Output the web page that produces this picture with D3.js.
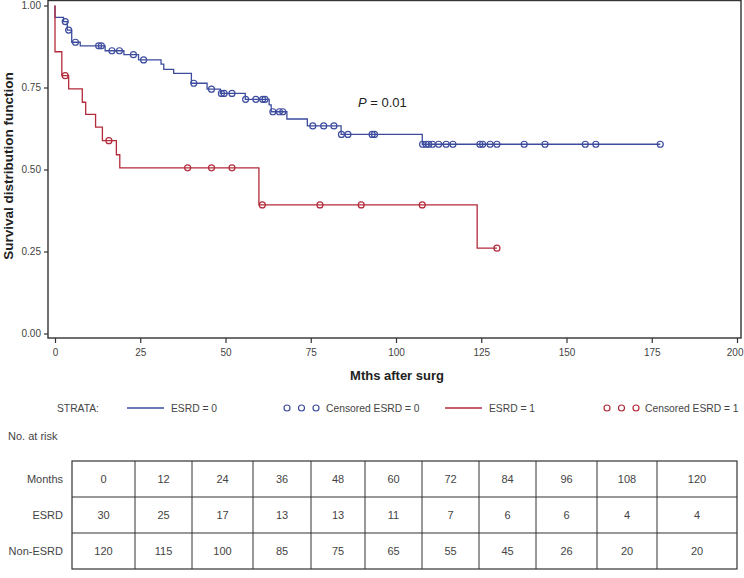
<!DOCTYPE html>
<html>
<head>
<meta charset="utf-8">
<script src="https://cdn.jsdelivr.net/npm/d3@7"></script>
<style>
  html, body { margin: 0; padding: 0; background: #fff; }
  svg { display: block; }
  text { font-family: "Liberation Sans", Arial, sans-serif; }
</style>
</head>
<body>
<svg id="chart" width="744" height="578"></svg>
<script>
// ---------------- DATA ----------------
const esrd0Times = [0, 0, 2.5, 3.6, 4.9, 7.4, 14.7, 20.2, 24.5, 31.1, 31.9, 34.8, 40.0, 44.6, 48.5, 55.8, 62.8, 63.4, 68.0, 74.0, 83.9, 107.7, 177.5];
const esrd0Surv  = [1, 0.964, 0.951, 0.925, 0.888, 0.877, 0.862, 0.850, 0.834, 0.821, 0.805, 0.793, 0.763, 0.745, 0.732, 0.714, 0.697, 0.676, 0.654, 0.633, 0.607, 0.577, 0.577];
const esrd0Censored = [3.0, 4.0, 6.0, 12.8, 13.6, 16.7, 18.9, 23.0, 26.0, 40.7, 45.9, 48.8, 49.6, 51.9, 55.9, 58.9, 60.9, 61.6, 63.9, 65.8, 66.8, 75.6, 78.8, 81.8, 84.0, 85.9, 93.0, 93.7, 107.8, 108.8, 109.6, 110.7, 112.5, 114.7, 116.7, 124.6, 125.4, 127.6, 129.6, 137.6, 143.7, 155.5, 158.6, 177.5];

const esrd1Times = [0, 0, 2.0, 4.0, 8.0, 9.0, 11.9, 13.9, 18.0, 19.0, 59.8, 123.8, 129.6];
const esrd1Surv  = [1, 0.859, 0.786, 0.746, 0.705, 0.668, 0.629, 0.588, 0.545, 0.505, 0.392, 0.26, 0.26];
const esrd1Censored = [3.0, 15.8, 38.9, 45.9, 51.9, 60.8, 77.7, 89.8, 107.7, 129.6];

const xTicks = [0, 25, 50, 75, 100, 125, 150, 175, 200];
const yTicks = [0, 0.25, 0.5, 0.75, 1.0];

const riskMonths   = [0, 12, 24, 36, 48, 60, 72, 84, 96, 108, 120];
const riskESRD     = [30, 25, 17, 13, 13, 11, 7, 6, 6, 4, 4];
const riskNonESRD  = [120, 115, 100, 85, 75, 65, 55, 45, 26, 20, 20];
const riskRowNames = ["Months", "ESRD", "Non-ESRD"];

const legendItems = ["ESRD = 0", "Censored ESRD = 0", "ESRD = 1", "Censored ESRD = 1"];
const pText = "0.01";

// ---------------- STYLE / LAYOUT ----------------
const BLUE = "#3d4c9e";
const RED  = "#b32a3a";
const AXIS = "#333";
const LABEL = "#444";

const svg = d3.select("#chart");
const frame = { left: 48, right: 741, top: 0.5, bottom: 338 };

const x = d3.scaleLinear().domain([0, 200]).range([55, 737]);
const y = d3.scaleLinear().domain([0, 1]).range([333.5, 5.5]);

// frame
svg.append("rect")
  .attr("x", frame.left).attr("y", frame.top)
  .attr("width", frame.right - frame.left).attr("height", frame.bottom - frame.top)
  .attr("fill", "none").attr("stroke", AXIS).attr("stroke-width", 1.4);

// y axis
const yAxis = svg.append("g").attr("transform", `translate(${frame.left},0)`)
  .call(d3.axisLeft(y).tickValues(yTicks).tickFormat(d3.format(".2f")).tickSize(4).tickPadding(3));
yAxis.select(".domain").remove();
yAxis.selectAll("line").attr("stroke", AXIS).attr("stroke-width", 1.2);
yAxis.selectAll("text").attr("fill", LABEL).style("font-size", "10px");

// x axis
const xAxis = svg.append("g").attr("transform", `translate(0,${frame.bottom})`)
  .call(d3.axisBottom(x).tickValues(xTicks).tickSize(5).tickPadding(6));
xAxis.select(".domain").remove();
xAxis.selectAll("line").attr("stroke", AXIS).attr("stroke-width", 1.2);
xAxis.selectAll("text").attr("fill", LABEL).style("font-size", "10px");
xAxis.selectAll("text").filter(d => d === 200).attr("text-anchor", "end").attr("dx", "6");

// titles
svg.append("text").attr("x", 397).attr("y", 380).attr("text-anchor", "middle")
  .style("font-size", "13px").style("font-weight", "bold").attr("fill", "#222")
  .text("Mths after surg");
svg.append("text").attr("transform", "translate(13,166) rotate(-90)").attr("text-anchor", "middle")
  .style("font-size", "13.5px").style("font-weight", "bold").attr("fill", "#222")
  .text("Survival distribution function");

// p value
const pt = svg.append("text").attr("x", 358).attr("y", 107).style("font-size", "13px").attr("fill", "#222");
pt.append("tspan").style("font-style", "italic").text("P");
pt.append("tspan").text(" = " + pText);

// curves
const line = d3.line().x(d => x(d[0])).y(d => y(d[1])).curve(d3.curveStepAfter);
function stepVal(times, surv, t) {
  const i = d3.bisectRight(times, t) - 1;
  return surv[Math.max(0, i)];
}
function drawSeries(times, surv, cens, color) {
  svg.append("path").datum(d3.zip(times, surv))
    .attr("d", line).attr("fill", "none").attr("stroke", color).attr("stroke-width", 1.3);
  svg.append("g").selectAll("circle").data(cens).join("circle")
    .attr("cx", d => x(d)).attr("cy", d => y(stepVal(times, surv, d)))
    .attr("r", 3).attr("fill", "none").attr("stroke", color).attr("stroke-width", 1.2);
}
drawSeries(esrd0Times, esrd0Surv, esrd0Censored, BLUE);
drawSeries(esrd1Times, esrd1Surv, esrd1Censored, RED);

// legend
const ly = 408;
const lg = svg.append("g").style("font-size", "10.3px");
lg.append("text").attr("x", 57).attr("y", ly + 4).attr("fill", LABEL).text("STRATA:");
lg.append("line").attr("x1", 127).attr("x2", 164).attr("y1", ly).attr("y2", ly).attr("stroke", BLUE).attr("stroke-width", 1.3);
lg.append("text").attr("x", 171).attr("y", ly + 4).attr("fill", LABEL).text(legendItems[0]);
[0, 1, 2].forEach(i => lg.append("circle").attr("cx", 287 + i * 14.5).attr("cy", ly).attr("r", 3)
  .attr("fill", "none").attr("stroke", BLUE).attr("stroke-width", 1.2));
lg.append("text").attr("x", 326).attr("y", ly + 4).attr("fill", LABEL).text(legendItems[1]);
lg.append("line").attr("x1", 445).attr("x2", 482).attr("y1", ly).attr("y2", ly).attr("stroke", RED).attr("stroke-width", 1.3);
lg.append("text").attr("x", 489).attr("y", ly + 4).attr("fill", LABEL).text(legendItems[2]);
[0, 1, 2].forEach(i => lg.append("circle").attr("cx", 607 + i * 14.5).attr("cy", ly).attr("r", 3)
  .attr("fill", "none").attr("stroke", RED).attr("stroke-width", 1.2));
lg.append("text").attr("x", 645).attr("y", ly + 4).attr("fill", LABEL).text(legendItems[3]);

// risk table
svg.append("text").attr("x", 8).attr("y", 440).style("font-size", "11px").attr("fill", LABEL).text("No. at risk");
const colEdges = [72, 135, 192, 253, 311, 365, 422, 479, 536, 597, 657, 737];
const rowEdges = [461, 497, 533, 569];
const tg = svg.append("g");
tg.append("rect").attr("x", colEdges[0]).attr("y", rowEdges[0])
  .attr("width", colEdges[colEdges.length - 1] - colEdges[0]).attr("height", rowEdges[3] - rowEdges[0])
  .attr("fill", "none").attr("stroke", AXIS).attr("stroke-width", 1.2);
colEdges.slice(1, -1).forEach(cx => tg.append("line").attr("x1", cx).attr("x2", cx)
  .attr("y1", rowEdges[0]).attr("y2", rowEdges[3]).attr("stroke", AXIS).attr("stroke-width", 1));
rowEdges.slice(1, -1).forEach(ry => tg.append("line").attr("x1", colEdges[0]).attr("x2", colEdges[colEdges.length - 1])
  .attr("y1", ry).attr("y2", ry).attr("stroke", AXIS).attr("stroke-width", 1));
const rows = [riskMonths, riskESRD, riskNonESRD];
rows.forEach((vals, r) => {
  const cy = (rowEdges[r] + rowEdges[r + 1]) / 2 + 4;
  tg.append("text").attr("x", 63).attr("y", cy).attr("text-anchor", "end")
    .style("font-size", "11px").attr("fill", LABEL).text(riskRowNames[r]);
  tg.selectAll(null).data(vals).join("text")
    .attr("x", (d, i) => (colEdges[i] + colEdges[i + 1]) / 2).attr("y", cy)
    .attr("text-anchor", "middle").style("font-size", "11px").attr("fill", LABEL).text(d => d);
});
</script>
</body>
</html>
